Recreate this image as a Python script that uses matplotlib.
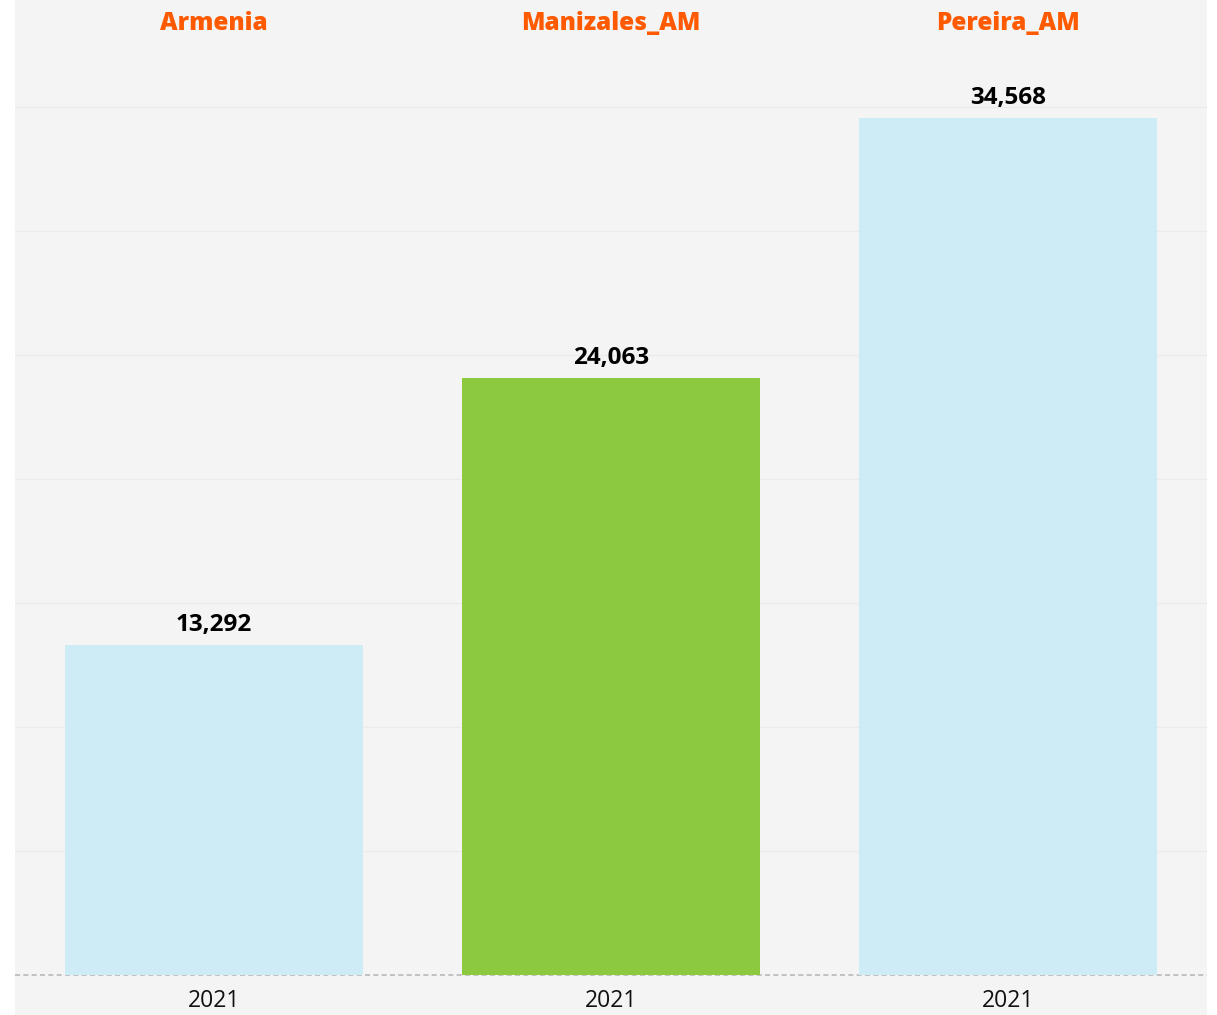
import matplotlib
matplotlib.use("Agg")
import matplotlib.pyplot as plt
from matplotlib.patches import Rectangle
import matplotlib.transforms as mtransforms

categories = ["Armenia", "Manizales_AM", "Pereira_AM"]
years = ["2021", "2021", "2021"]
values = [13292, 24063, 34568]
colors = ["#cdecf5", "#8cc93f", "#cdecf5"]

plt.rcParams['font.family'] = ['Open Sans', 'DejaVu Sans']

W, H = 1217, 1015
fig = plt.figure(figsize=(W / 100, H / 100), dpi=100)
fig.patch.set_facecolor("white")
fig.patches.append(Rectangle((15 / W, 0), 1192 / W, 1, transform=fig.transFigure,
                             facecolor="#f4f4f4", edgecolor="none", zorder=-10))

ax = fig.add_axes([15 / W, 40 / H, 1192 / W, 975 / H])
ax.set_zorder(1)
ax.set_facecolor("none")
ax.set_xlim(-0.5, 2.5)
ax.set_ylim(0, 975 / 0.0248)

x = list(range(len(categories)))
bars = ax.bar(x, values, width=0.75, color=colors, zorder=2)

for yv in range(5000, 40000, 5000):
    ax.axhline(yv, color="#ebebeb", linewidth=1, zorder=1)
ax.axhline(0, color="#b8b8b8", linewidth=1.2, linestyle=(0, (3, 2)), zorder=1.5,
           clip_on=False)

for xi, v in zip(x, values):
    ax.annotate(f"{v:,}", (xi, v), xytext=(0, 10), textcoords="offset points",
                ha="center", va="baseline", fontsize=17.5, fontweight="bold",
                color="black")

trans = mtransforms.blended_transform_factory(ax.transData, ax.transAxes)
for xi, c in zip(x, categories):
    ax.text(xi, (975 - 30) / 975, c, transform=trans, ha="center", va="baseline",
            fontsize=17.5, fontweight="heavy", color="#ff5a00")

ax.set_xticks(x)
ax.set_xticklabels(years, fontsize=16.5, color="#111111")
ax.tick_params(axis="x", length=0, pad=10)
ax.set_yticks([])
for s in ax.spines.values():
    s.set_visible(False)

fig.savefig("out.png", dpi=100, facecolor=fig.get_facecolor())
